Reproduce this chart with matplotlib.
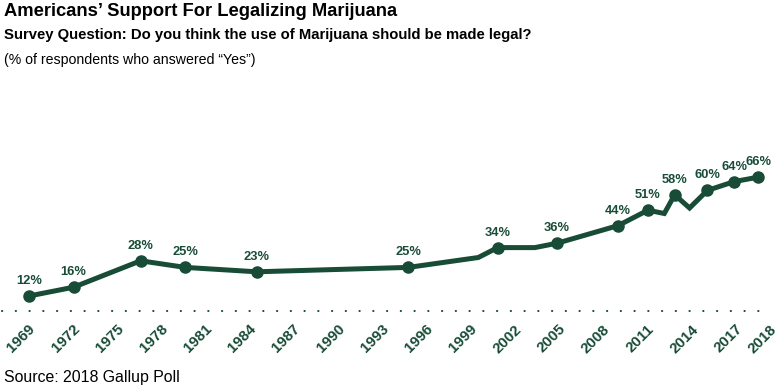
import numpy as np
import matplotlib.pyplot as plt

# values (x = position in years, y = % yes)
years = [1969, 1972, 1976.5, 1979.5, 1984.3, 1994.5, 1999.2, 2000.5, 2003,
         2004.5, 2008.6, 2010.6, 2011.7, 2012.4, 2013.4, 2014.6, 2016.4, 2018]
support = [12, 16, 28, 25, 23, 25, 29.5, 34, 34,
           36, 44, 51, 49.5, 58, 52, 60, 64, 66]
# which points get a marker + label
labelled = [True, True, True, True, True, True, False, True, False,
            True, True, True, False, True, False, True, True, True]

tick_labels = ['1969', '1972', '1975', '1978', '1981', '1984', '1987', '1990', '1993',
               '1996', '1999', '2002', '2005', '2008', '2011', '2014', '2017', '2018']

green = '#184c37'
W, H = 781, 390

plt.rcParams['font.family'] = ['Liberation Sans', 'DejaVu Sans']

fig = plt.figure(figsize=(W / 100, H / 100), dpi=100)
ax = fig.add_axes([0, (H - 311) / H, 1, (311 - 150) / H])

# x: 1969 -> px 29, 2018 -> px 758
px_per_year = (758 - 29) / (2018 - 1969)
x0 = 1969 - 29 / px_per_year
ax.set_xlim(x0, x0 + W / px_per_year)
# y: 12% -> px 296, 2.2 px per %
ybot = 12 - (311 - 296) / 2.2
ax.set_ylim(ybot, ybot + (311 - 150) / 2.2)

ax.plot(years, support, color=green, lw=3.6, solid_joinstyle='miter', zorder=3)
mx = [x for x, f in zip(years, labelled) if f]
my = [y for y, f in zip(support, labelled) if f]
ax.plot(mx, my, 'o', color=green, ms=8, zorder=4)
for x, y in zip(mx, my):
    ax.annotate(f'{y:.0f}%', (x, y), xytext=(0, 6.5), textcoords='offset points',
                ha='center', va='bottom', fontsize=9.3, fontweight='bold', color=green)

# dotted baseline
ax.axhline(ybot, xmin=0.003, xmax=0.985, color=green, lw=1.5,
           linestyle=(0, (0.1, 6.5)), dash_capstyle='round', clip_on=False)

# evenly spaced tick labels (their right ends in px)
tick_px = list(np.linspace(38, 745, 17)) + [779]
ax.set_xticks([x0 + p / px_per_year for p in tick_px])
ax.set_xticklabels(tick_labels, rotation=45, ha='right', va='top',
                   fontsize=10.8, fontweight='bold', color=green)
ax.tick_params(axis='x', length=0, pad=8)
ax.set_yticks([])
for s in ax.spines.values():
    s.set_visible(False)
ax.patch.set_alpha(0)

fig.text(4 / W, 1 - 3 / H, 'Americans’ Support For Legalizing Marijuana',
         fontsize=13.2, fontweight='bold', va='top', ha='left')
fig.text(4 / W, 1 - 28 / H, 'Survey Question: Do you think the use of Marijuana should be made legal?',
         fontsize=10.7, fontweight='bold', va='top', ha='left')
fig.text(4 / W, 1 - 53 / H, '(% of respondents who answered “Yes”)',
         fontsize=10.2, va='top', ha='left')
fig.text(4 / W, 1 - 370 / H, 'Source: 2018 Gallup Poll',
         fontsize=11.4, va='top', ha='left')

fig.savefig('out.png', dpi=100)
